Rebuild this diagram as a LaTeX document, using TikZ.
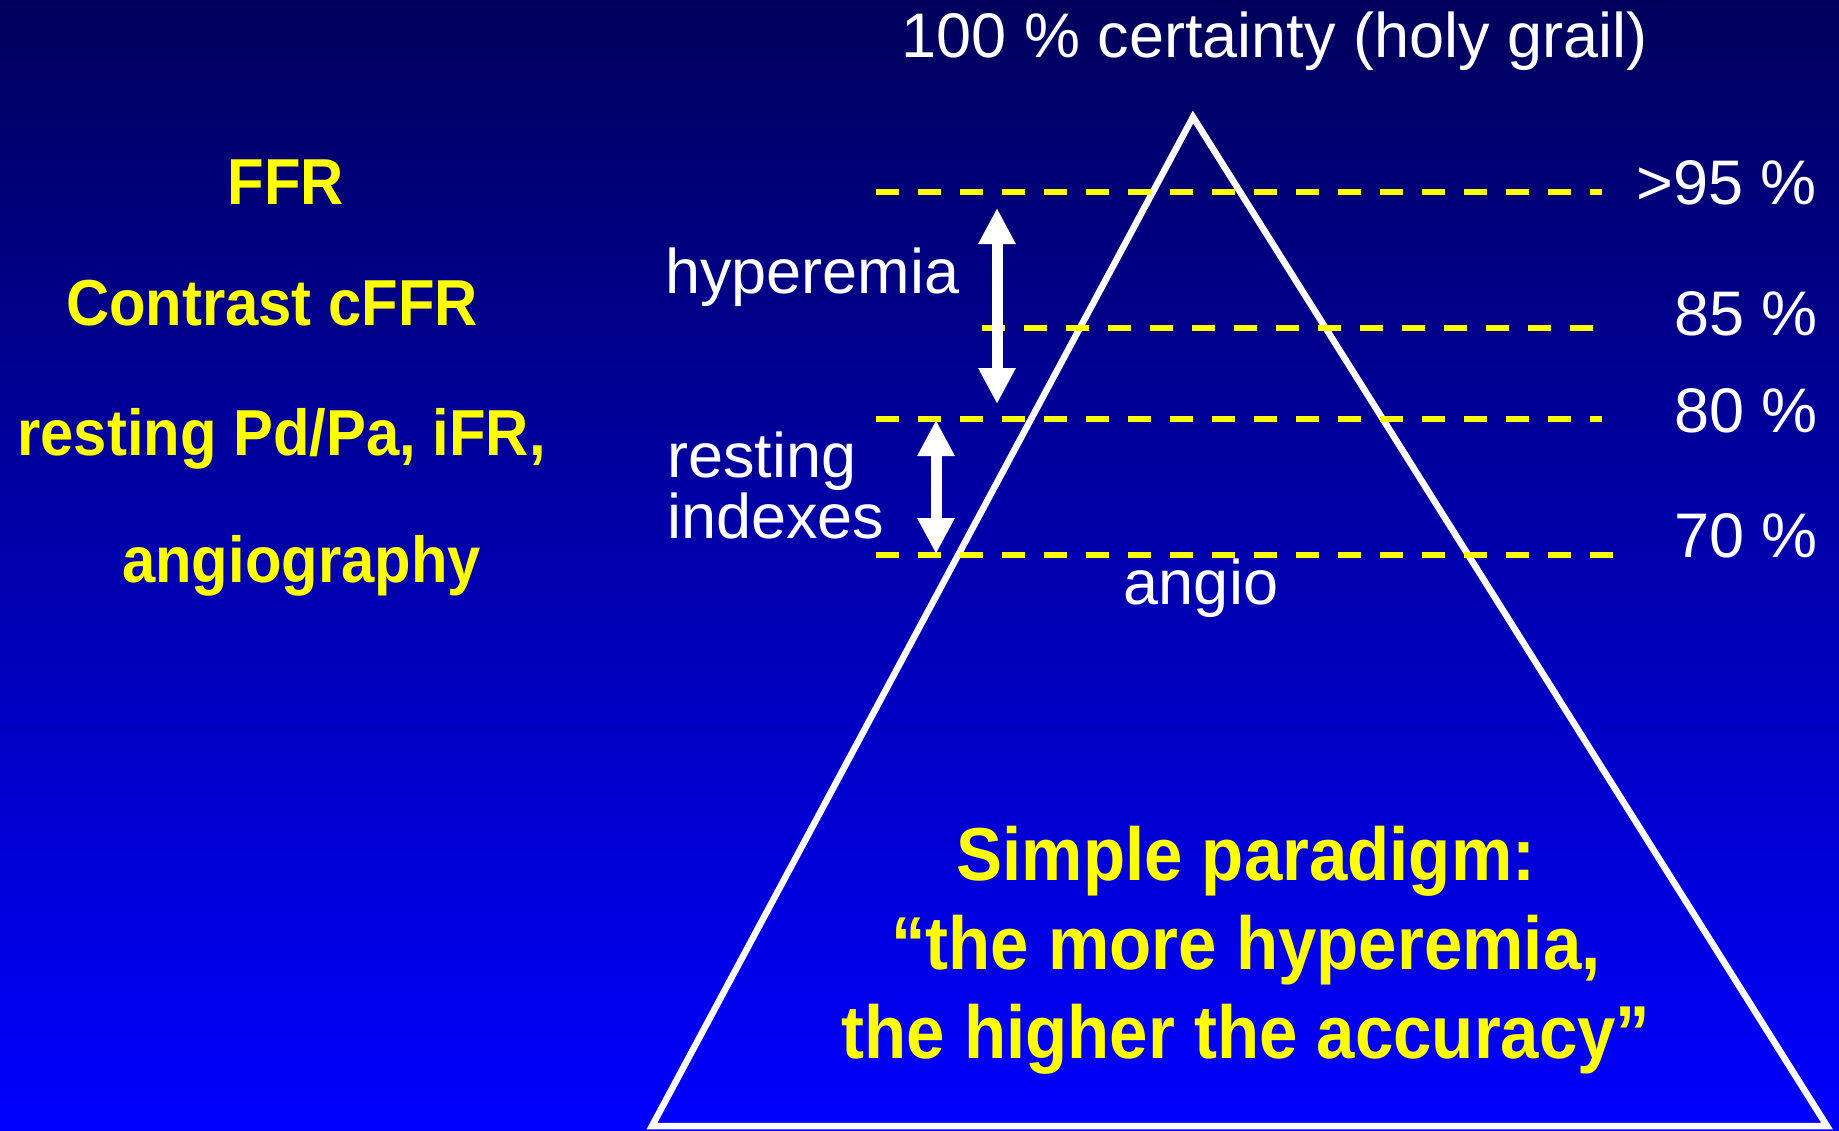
\documentclass[tikz,border=0pt]{standalone}
\usepackage{fontspec}
\setmainfont{Liberation Sans}
\newfontfamily\condfont[FakeStretch=0.92]{Liberation Sans}
\usetikzlibrary{arrows.meta}
\definecolor{bgtop}{RGB}{0,0,92}
\definecolor{bgbot}{RGB}{0,0,255}
\definecolor{ylw}{RGB}{255,255,0}
\tikzset{
  wtxt/.style={text=white, inner sep=0pt, font=\fontsize{63}{61}\selectfont},
  ltxt/.style={text=ylw, inner sep=0pt, font=\condfont\bfseries\fontsize{65}{78}\selectfont},
  btxt/.style={text=ylw, inner sep=0pt, align=center, font=\condfont\bfseries\fontsize{75}{89}\selectfont},
  level/.style={draw=ylw, line width=6pt, dash pattern=on 23pt off 19pt},
  pyr/.style={draw=white, line width=6.5pt, line join=miter},
  dblarrow/.style={draw=white, line width=11pt, {Triangle[width=35pt,length=36pt]}-{Triangle[width=35pt,length=36pt]}}
}
\begin{document}
\begin{tikzpicture}[x=1pt,y=-1pt]
\useasboundingbox (0,0) rectangle (1839,1130);
\fill[top color=bgtop, bottom color=bgbot] (0,0) rectangle (1839,1130);
% pyramid
\coordinate (apex) at (1193,117);
\coordinate (bl) at (652,1126);
\coordinate (br) at (1827,1126);
\draw[pyr] (bl) -- (apex) -- (br) -- cycle;
% dashed levels
\coordinate (l1a) at (876,192);  \coordinate (l1b) at (1602,192);
\coordinate (l2a) at (982,328);  \coordinate (l2b) at (1593,328);
\coordinate (l3a) at (876,419);  \coordinate (l3b) at (1602,419);
\coordinate (l4a) at (876,555);  \coordinate (l4b) at (1613,555);
\draw[level] (l1a) -- (l1b);
\draw[level] (l2a) -- (l2b);
\draw[level] (l3a) -- (l3b);
\draw[level] (l4a) -- (l4b);
% arrows
\coordinate (h1) at (997,208);  \coordinate (h2) at (997,404);
\coordinate (r1) at (936,420);  \coordinate (r2) at (936,554);
\draw[dblarrow] (h1) -- (h2);
\draw[dblarrow] (r1) -- (r2);
% texts
\node[wtxt, anchor=base] (title) at (1274.5,57) {100 \% certainty (holy grail)};
\node[wtxt, anchor=base east] (p95) at (1817,204) {>95 \%};
\node[wtxt, anchor=base east] (p85) at (1818,335) {85 \%};
\node[wtxt, anchor=base east] (p80) at (1818,432) {80 \%};
\node[wtxt, anchor=base east] (p70) at (1818,557) {70 \%};
\node[wtxt, anchor=base west] (hyp) at (665,293) {hyperemia};
\node[wtxt, anchor=base west] (rest1) at (667,477) {resting};
\node[wtxt, anchor=base west] (rest2) at (667,538) {indexes};
\node[wtxt, anchor=base] (angio) at (1201,604) {angio};
\node[ltxt, anchor=base] (ffr) at (286,204) {FFR};
\node[ltxt, anchor=base] (cffr) at (272,325) {Contrast cFFR};
\node[ltxt, anchor=base] (rpd) at (281.5,455) {resting Pd/Pa, iFR,};
\node[ltxt, anchor=base] (angiog) at (301.5,582) {angiography};
\node[btxt, anchor=base] (paradigm) at (1246,1058) {Simple paradigm:\\“the more hyperemia,\\the higher the accuracy”};
\end{tikzpicture}
\end{document}
